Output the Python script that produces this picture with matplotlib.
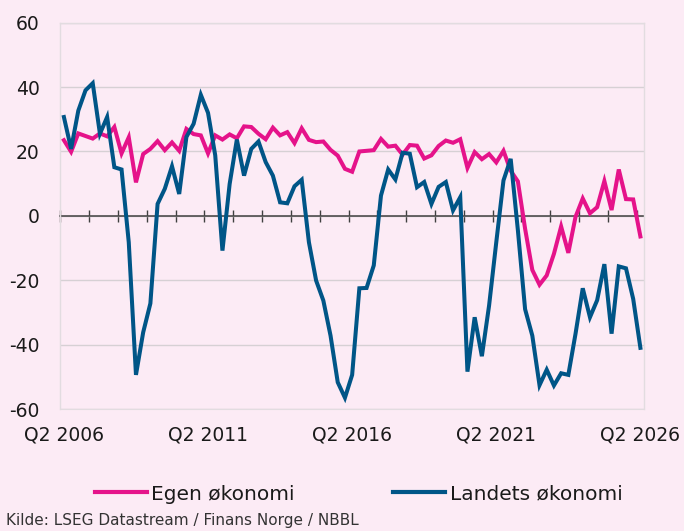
import matplotlib
matplotlib.use("Agg")
import matplotlib.pyplot as plt
from matplotlib.lines import Line2D

plt.rcParams['font.family'] = ['DejaVu Sans']

# Quarterly index, Q2 2006 .. Q2 2026
tick_labels = ["Q2 2006", "Q2 2011", "Q2 2016", "Q2 2021", "Q2 2026"]
label_positions = [0, 20, 40, 60, 80]

egen_okonomi = [
    23.5, 19.9, 25.6, 24.8, 24.0, 25.6, 24.7, 27.6, 19.4, 24.4,
    10.4, 19.2, 20.8, 23.2, 20.4, 22.8, 20.2, 27.0, 25.4, 25.0,
    19.4, 25.0, 23.7, 25.3, 24.1, 27.8, 27.6, 25.5, 23.8, 27.4,
    25.0, 26.0, 22.6, 27.2, 23.6, 22.9, 23.1, 20.5, 18.7, 14.6,
    13.7, 20.0, 20.2, 20.4, 23.9, 21.5, 21.8, 19.0, 22.0, 21.8,
    17.8, 18.8, 21.7, 23.4, 22.7, 23.8, 14.9, 19.8, 17.6, 19.2,
    16.6, 20.2, 14.0, 10.7, -4.0, -16.8, -21.4, -18.5, -11.8, -3.3,
    -11.5, -0.3, 5.4, 0.8, 2.7, 10.8, 1.8, 14.4, 5.2, 5.1,
    -6.4,
]

landets_okonomi = [
    30.7, 20.8, 32.7, 39.0, 41.2, 25.5, 30.7, 15.1, 14.4, -8.2,
    -49.4, -36.2, -27.2, 3.7, 8.4, 15.4, 6.8, 24.5, 28.6, 37.6,
    32.0, 18.8, -10.8, 9.9, 23.7, 12.5, 20.8, 23.1, 16.7, 12.5,
    4.2, 3.9, 9.2, 11.2, -8.2, -20.1, -26.3, -37.2, -51.7, -56.5,
    -49.4, -22.5, -22.4, -15.4, 6.3, 14.4, 11.3, 19.6, 19.3, 8.9,
    10.5, 3.7, 9.0, 10.5, 1.7, 5.8, -48.4, -31.5, -43.6, -27.9,
    -8.2, 11.0, 17.7, -4.5, -29.0, -37.2, -52.6, -47.8, -52.7, -48.9,
    -49.4, -36.6, -22.5, -31.5, -26.2, -15.0, -36.6, -15.7, -16.3, -25.8,
    -41.0,
]

series_names = ["Egen økonomi", "Landets økonomi"]
source_text = "Kilde: LSEG Datastream / Finans Norge / NBBL"

BG = "#FCEBF5"
PINK = "#E5138A"
BLUE = "#005587"
TXT = "#1a1a1a"

fig = plt.figure(figsize=(6.84, 5.31), dpi=100, facecolor=BG)
ax = fig.add_axes([60.3 / 684, 1 - 409 / 531, (644 - 60.3) / 684, (409 - 22.7) / 531])
ax.set_facecolor(BG)

x = list(range(len(egen_okonomi)))
ax.plot(x, egen_okonomi, color=PINK, lw=2.9, solid_joinstyle='miter', zorder=3)
ax.plot(x, landets_okonomi, color=BLUE, lw=2.9, solid_joinstyle='miter', zorder=4)

ax.set_xlim(-0.5, len(x) - 0.5)
ax.set_ylim(-60, 60)

# y axis
ax.set_yticks(range(-60, 61, 20))
ax.yaxis.grid(True, color="#D6D0D4", lw=1.0, zorder=0)
ax.tick_params(axis='y', length=0, pad=15, labelsize=13.5, labelcolor=TXT)
ax.set_yticklabels([str(v) for v in range(-60, 61, 20)])

# x axis line at zero with year ticks between categories
ax.spines['bottom'].set_position(('data', 0))
ax.spines['bottom'].set_color("#404040")
ax.spines['bottom'].set_linewidth(1.1)
ax.spines['bottom'].set_zorder(2)
ax.set_xticks([i - 0.5 for i in range(0, len(x), 4)])
ax.tick_params(axis='x', direction='inout', length=9, width=1.0, color="#404040",
               labelbottom=False)

for s in ['left', 'right', 'top']:
    ax.spines[s].set_color("#E2DCE0")
    ax.spines[s].set_linewidth(1.0)

sec = ax.secondary_xaxis('bottom')
sec.set_xticks(label_positions, tick_labels)
sec.tick_params(length=0, pad=12, labelsize=13.5, labelcolor=TXT)
sec.spines['bottom'].set_color("#E2DCE0")

handles = [Line2D([], [], color=PINK, lw=3.0), Line2D([], [], color=BLUE, lw=3.0)]
fig.legend(handles, series_names, loc='center', bbox_to_anchor=(0.524, 1 - 494 / 531),
           ncol=2, frameon=False, fontsize=14.5, handlelength=2.6, handletextpad=0.2,
           columnspacing=4.9, labelcolor=TXT)

fig.text(6 / 684, 1 - 521 / 531, source_text, fontsize=11, color="#333333",
         ha='left', va='center')

fig.savefig("out.png", dpi=100, facecolor=BG)
